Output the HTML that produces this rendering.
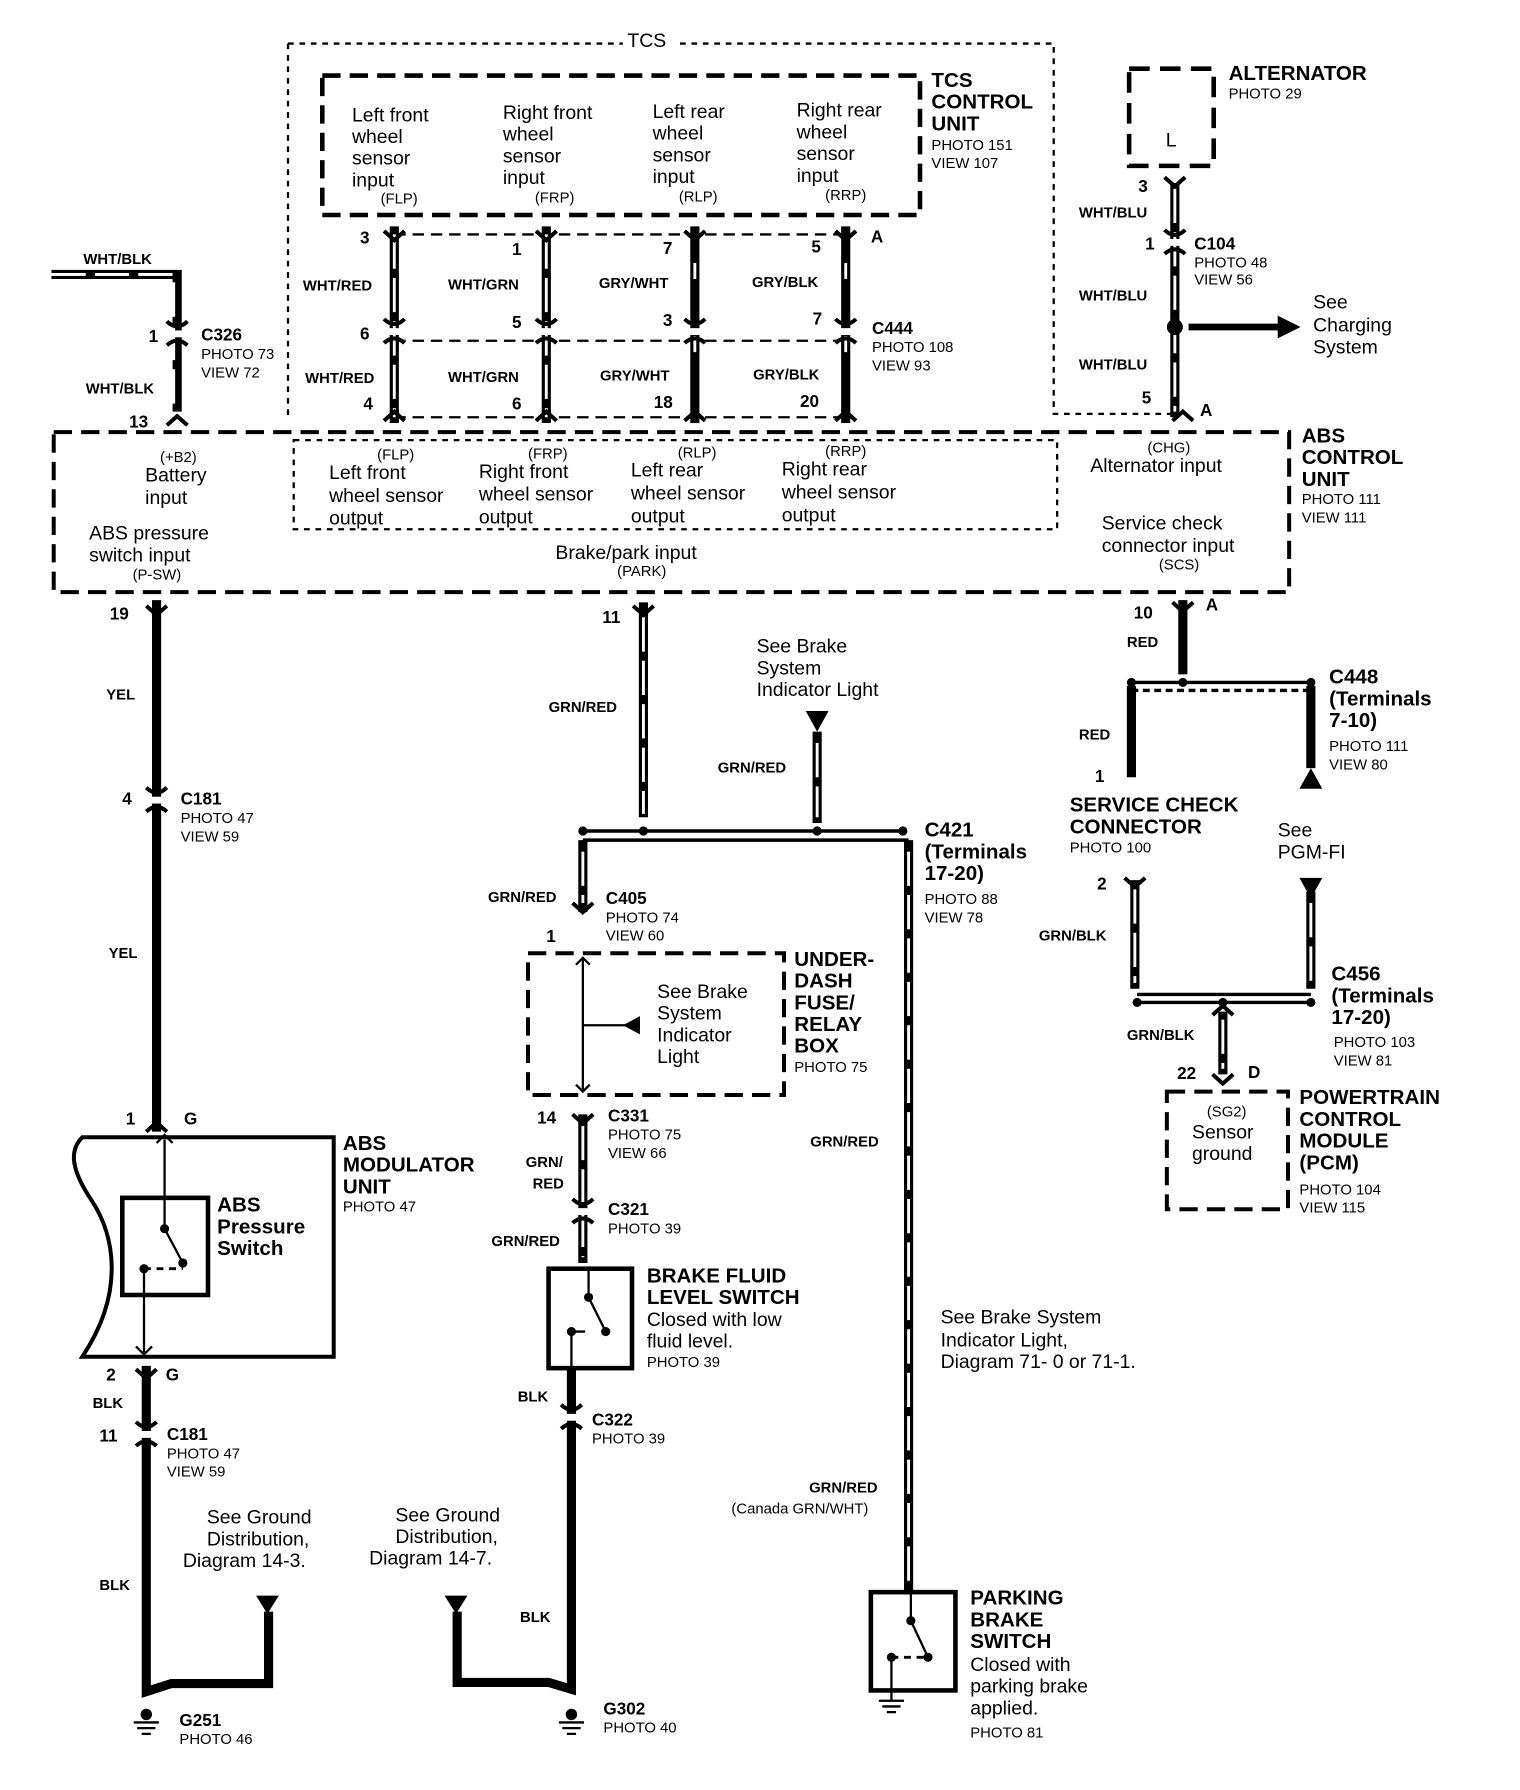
<!DOCTYPE html>
<html><head><meta charset="utf-8"><style>
html,body{margin:0;padding:0;background:#fff;width:1520px;height:1790px;overflow:hidden}
svg{display:block}
text{font-family:"Liberation Sans",Arial,sans-serif;fill:#000}
.n{font-size:17px}
.b{font-size:18px;font-weight:bold}
.s{font-size:13px}
.w{font-size:13px;font-weight:bold}
.p{font-size:15px;font-weight:bold}
</style></head><body>
<svg width="1520" height="1790" viewBox="0 0 1330 1566" xmlns="http://www.w3.org/2000/svg">
<defs>
<g id="cd"><rect x="-7" y="-3" width="14" height="6" fill="#fff"/><path d="M-9,-11 Q0,-2 9,-11" fill="none" stroke="#000" stroke-width="3.5"/><path d="M-9,10 Q0,2 9,10" fill="none" stroke="#000" stroke-width="3.5"/></g>
</defs>
<g fill="none" stroke="#000">
<path d="M252,38 V365 M252,38 H545 M595,38 H922 V362 H1028" stroke-width="2" stroke-dasharray="5,5"/>
<rect x="282" y="66" width="523" height="122" stroke-width="4" stroke-dasharray="16,8"/>
<rect x="47" y="378" width="1081" height="140" stroke-width="3.5" stroke-dasharray="16,8"/>
<rect x="257" y="385" width="668" height="78" stroke-width="2" stroke-dasharray="5,5"/>
<path d="M345,205 H740 M345,298 H740 M345,365 H740" stroke-width="2" stroke-dasharray="10,6"/>
<rect x="988" y="60" width="74" height="85" stroke-width="4" stroke-dasharray="18,9"/>
<rect x="462" y="834" width="224" height="124" stroke-width="3.5" stroke-dasharray="16,8"/>
<rect x="1021" y="955" width="106" height="103" stroke-width="3.5" stroke-dasharray="16,8"/>
</g>
<g stroke="#000" fill="none" stroke-width="8">
<path d="M345,198 V370 M478,198 V370 M1028,160 V365 M45,240 H155 V360"/>
<path d="M608,198 V370 M740,198 V370"/>
<path d="M137,525 V990 M128,1195 V1480 L150,1473 H235 V1410 M500,1197 V1478 L480,1472 H400 V1410 M1035,525 V590 M990,600 V680 M1147,600 V672"/>
<path d="M563,527 V715 M715,640 V720 M510,735 V798 M510,975 V1105 M795,735 V1395 M993,770 V865 M1147,780 V865 M1070,885 V940"/>
</g>
<g stroke="#fff" fill="none" stroke-width="2.5">
<path d="M345,205 V365 M478,205 V365 M1028,165 V360 M45,240 H152 V355 M563,540 V712 M715,650 V715 M510,745 V790 M510,985 V1100 M795,745 V1390 M993,778 V860 M1147,790 V860 M1070,892 V935" stroke-dasharray="30,8"/>
<path d="M608,230 V345 M740,230 V345" stroke-dasharray="14,50"/>
</g>
<g>
<use href="#cd" x="345" y="290"/><use href="#cd" x="478" y="290"/><use href="#cd" x="608" y="290"/><use href="#cd" x="740" y="290"/>
<use href="#cd" x="155" y="292"/><use href="#cd" x="1028" y="212"/>
<use href="#cd" x="137" y="700"/><use href="#cd" x="128" y="1255"/>
<use href="#cd" x="510" y="1060"/><use href="#cd" x="500" y="1240"/>
</g>
<g fill="none" stroke="#000" stroke-width="3.5">
<path d="M336,202 L345,210 L354,202 M469,202 L478,210 L487,202 M599,202 L608,210 L617,202 M731,202 L740,210 L749,202 M336,368 L345,360 L354,368 M469,368 L478,360 L487,368 M599,368 L608,360 L617,368 M731,368 L740,360 L749,368"/>
<path d="M1019,155 L1028,163 L1037,155 M1026,368 L1035,360 L1044,368 M146,372 L155,364 L164,372 M128,530 L137,538 L146,530 M554,530 L563,538 L572,530 M1026,527 L1035,535 L1044,527"/>
<path d="M128,990 L137,982 L146,990 M119,1198 L128,1206 L137,1198 M501,790 L510,798 L519,790 M501,975 L510,983 L519,975 M984,768 L993,776 L1002,768 M1061,888 L1070,880 L1079,888 M1061,940 L1070,948 L1079,940"/>
</g>
<g stroke="#000" stroke-width="3">
<line x1="510" y1="727" x2="790" y2="727"/>
<line x1="510" y1="735" x2="795" y2="735"/>
<line x1="990" y1="597" x2="1147" y2="597"/>
<line x1="990" y1="604" x2="1147" y2="604" stroke-dasharray="6,4"/>
<line x1="995" y1="870" x2="1147" y2="870"/>
<line x1="995" y1="877" x2="1147" y2="877"/>
<line x1="1040" y1="286" x2="1120" y2="286" stroke-width="6"/>
</g>
<g fill="#000">
<circle cx="510" cy="727" r="4"/><circle cx="563" cy="727" r="4"/><circle cx="715" cy="727" r="4"/><circle cx="790" cy="727" r="4"/>
<circle cx="990" cy="597" r="4"/><circle cx="1035" cy="597" r="4"/><circle cx="1147" cy="597" r="4"/>
<circle cx="995" cy="877" r="4"/><circle cx="1070" cy="877" r="4"/><circle cx="1147" cy="877" r="4"/>
<circle cx="1028" cy="286" r="7"/>
<polygon points="1118,276 1138,286 1118,296"/>
<polygon points="705,622 725,622 715,640"/>
<polygon points="1137,690 1157,690 1147,672"/>
<polygon points="1137,768 1157,768 1147,786"/>
<polygon points="224,1396 244,1396 234,1412"/>
<polygon points="389,1396 409,1396 399,1412"/>
<polygon points="545,897 560,889 560,905"/>
</g>
<g fill="none" stroke="#000">
<path d="M72,995 H292 V1187 H72 C110,1130 100,1080 80,1050 C60,1020 62,1005 72,995 Z" stroke-width="3.5"/>
<rect x="107" y="1048" width="75" height="85" stroke-width="4"/>
<path d="M144,997 V1075 L160,1105 M126,1110 V1185" stroke-width="2"/>
<path d="M126,1110 H160 M515,1165 H530 M780,1450 H812" stroke-width="2.5" stroke-dasharray="6,5"/>
<path d="M137,1000 L144,993 L151,1000 M119,1178 L126,1185 L133,1178" stroke-width="2"/>
<rect x="480" y="1110" width="73" height="87" fill="#fff" stroke-width="4"/>
<path d="M515,1112 V1135 L530,1165 M500,1165 V1197 M500,1165 H512" stroke-width="2"/>
<rect x="762" y="1393" width="74" height="86" stroke-width="4"/>
<path d="M797,1395 V1418 L812,1450 M780,1450 V1488" stroke-width="2"/>
<path d="M510,838 V955 M510,897 H548 M504,844 L510,838 L516,844 M504,949 L510,955 L516,949" stroke-width="2"/>
</g>
<g fill="#000"><circle cx="144" cy="1075" r="4"/><circle cx="160" cy="1105" r="4"/><circle cx="126" cy="1110" r="4"/>
<circle cx="515" cy="1135" r="4"/><circle cx="530" cy="1165" r="4"/><circle cx="500" cy="1165" r="4"/>
<circle cx="797" cy="1418" r="4"/><circle cx="812" cy="1450" r="4"/><circle cx="780" cy="1450" r="4"/>
<circle cx="128" cy="1500" r="5"/><circle cx="500" cy="1500" r="5"/></g>
<g stroke="#000" stroke-width="2">
<path d="M117,1507 H139 M120,1512 H136 M124,1517 H132 M489,1507 H511 M492,1512 H508 M496,1517 H504 M769,1488 H791 M772,1493 H788 M776,1498 H784"/>
</g>
<text x="549" y="41" class="n">TCS</text>
<text x="815" y="76" class="b">TCS</text><text x="815" y="95" class="b">CONTROL</text><text x="815" y="114" class="b">UNIT</text>
<text x="815" y="131" class="s">PHOTO 151</text><text x="815" y="147" class="s">VIEW 107</text>
<g class="n">
<text x="308" y="106">Left front</text><text x="308" y="125">wheel</text><text x="308" y="144">sensor</text><text x="308" y="163">input</text>
<text x="440" y="104">Right front</text><text x="440" y="123">wheel</text><text x="440" y="142">sensor</text><text x="440" y="161">input</text>
<text x="571" y="103">Left rear</text><text x="571" y="122">wheel</text><text x="571" y="141">sensor</text><text x="571" y="160">input</text>
<text x="697" y="102">Right rear</text><text x="697" y="121">wheel</text><text x="697" y="140">sensor</text><text x="697" y="159">input</text>
</g>
<g class="s"><text x="333" y="178">(FLP)</text><text x="468" y="177">(FRP)</text><text x="594" y="176">(RLP)</text><text x="722" y="175">(RRP)</text></g>
<g class="p"><text x="315" y="213">3</text><text x="448" y="223">1</text><text x="580" y="222">7</text><text x="710" y="221">5</text><text x="762" y="212">A</text>
<text x="315" y="297">6</text><text x="448" y="287">5</text><text x="580" y="285">3</text><text x="711" y="284">7</text>
<text x="318" y="358">4</text><text x="448" y="358">6</text><text x="572" y="357">18</text><text x="700" y="356">20</text>
<text x="130" y="299">1</text><text x="113" y="374">13</text>
<text x="996" y="168">3</text><text x="1002" y="218">1</text><text x="999" y="353">5</text><text x="1050" y="364">A</text>
</g>
<g class="w"><text x="265" y="254">WHT/RED</text><text x="392" y="253">WHT/GRN</text><text x="524" y="252">GRY/WHT</text><text x="658" y="251">GRY/BLK</text>
<text x="267" y="335">WHT/RED</text><text x="392" y="334">WHT/GRN</text><text x="525" y="333">GRY/WHT</text><text x="659" y="332">GRY/BLK</text>
<text x="73" y="231">WHT/BLK</text><text x="75" y="344">WHT/BLK</text>
<text x="944" y="190">WHT/BLU</text><text x="944" y="263">WHT/BLU</text><text x="944" y="323">WHT/BLU</text></g>
<text x="763" y="292" class="p" font-size="17">C444</text><text x="763" y="308" class="s">PHOTO 108</text><text x="763" y="324" class="s">VIEW 93</text>
<text x="176" y="298" class="p" font-size="17">C326</text><text x="176" y="314" class="s">PHOTO 73</text><text x="176" y="330" class="s">VIEW 72</text>
<text x="1075" y="70" class="b">ALTERNATOR</text><text x="1075" y="86" class="s">PHOTO 29</text>
<text x="1020" y="128" class="n">L</text>
<text x="1045" y="218" class="p" font-size="17">C104</text><text x="1045" y="234" class="s">PHOTO 48</text><text x="1045" y="249" class="s">VIEW 56</text>
<text x="1149" y="270" class="n">See</text><text x="1149" y="290" class="n">Charging</text><text x="1149" y="309" class="n">System</text>
<text x="1139" y="387" class="b">ABS</text><text x="1139" y="406" class="b">CONTROL</text><text x="1139" y="425" class="b">UNIT</text>
<text x="1139" y="441" class="s">PHOTO 111</text><text x="1139" y="457" class="s">VIEW 111</text>
<g class="s"><text x="140" y="404">(+B2)</text><text x="330" y="402">(FLP)</text><text x="462" y="401">(FRP)</text><text x="593" y="400">(RLP)</text><text x="722" y="399">(RRP)</text><text x="1004" y="396">(CHG)</text><text x="116" y="507">(P-SW)</text><text x="540" y="504">(PARK)</text><text x="1014" y="498">(SCS)</text></g>
<g class="n">
<text x="127" y="421">Battery</text><text x="127" y="441">input</text>
<text x="78" y="472">ABS pressure</text><text x="78" y="491">switch input</text>
<text x="288" y="419">Left front</text><text x="288" y="439">wheel sensor</text><text x="288" y="459">output</text>
<text x="419" y="418">Right front</text><text x="419" y="438">wheel sensor</text><text x="419" y="458">output</text>
<text x="552" y="417">Left rear</text><text x="552" y="437">wheel sensor</text><text x="552" y="457">output</text>
<text x="684" y="416">Right rear</text><text x="684" y="436">wheel sensor</text><text x="684" y="456">output</text>
<text x="954" y="413">Alternator input</text>
<text x="964" y="463">Service check</text><text x="964" y="483">connector input</text>
<text x="486" y="489">Brake/park input</text>
</g>
<g class="p"><text x="96" y="542">19</text><text x="527" y="545">11</text><text x="992" y="541">10</text><text x="1055" y="534">A</text>
<text x="107" y="704">4</text><text x="110" y="984">1</text><text x="161" y="984">G</text><text x="93" y="1208">2</text><text x="145" y="1208">G</text><text x="87" y="1261">11</text>
<text x="478" y="824">1</text><text x="470" y="983">14</text><text x="958" y="684">1</text><text x="960" y="778">2</text><text x="1030" y="944">22</text><text x="1092" y="943">D</text></g>
<g class="w"><text x="93" y="612">YEL</text><text x="95" y="838">YEL</text><text x="81" y="1232">BLK</text><text x="87" y="1391">BLK</text>
<text x="480" y="623">GRN/RED</text><text x="628" y="676">GRN/RED</text><text x="427" y="789">GRN/RED</text><text x="460" y="1021">GRN/</text><text x="466" y="1040">RED</text><text x="430" y="1090">GRN/RED</text><text x="453" y="1226">BLK</text><text x="455" y="1419">BLK</text>
<text x="709" y="1003">GRN/RED</text><text x="708" y="1306">GRN/RED</text><text x="640" y="1324" font-weight="normal">(Canada GRN/WHT)</text>
<text x="986" y="566">RED</text><text x="944" y="647">RED</text><text x="909" y="823">GRN/BLK</text><text x="986" y="910">GRN/BLK</text></g>
<text x="158" y="704" class="p" font-size="17">C181</text><text x="158" y="720" class="s">PHOTO 47</text><text x="158" y="736" class="s">VIEW 59</text>
<text x="146" y="1260" class="p" font-size="17">C181</text><text x="146" y="1276" class="s">PHOTO 47</text><text x="146" y="1292" class="s">VIEW 59</text>
<text x="300" y="1006" class="b">ABS</text><text x="300" y="1025" class="b">MODULATOR</text><text x="300" y="1044" class="b">UNIT</text><text x="300" y="1060" class="s">PHOTO 47</text>
<text x="190" y="1060" class="b">ABS</text><text x="190" y="1079" class="b">Pressure</text><text x="190" y="1098" class="b">Switch</text>
<g class="n"><text x="181" y="1333">See Ground</text><text x="181" y="1352">Distribution,</text><text x="160" y="1371">Diagram 14-3.</text>
<text x="346" y="1331">See Ground</text><text x="346" y="1350">Distribution,</text><text x="323" y="1369">Diagram 14-7.</text>
<text x="662" y="571">See Brake</text><text x="662" y="590">System</text><text x="662" y="609">Indicator Light</text>
<text x="575" y="873">See Brake</text><text x="575" y="892">System</text><text x="575" y="911">Indicator</text><text x="575" y="930">Light</text>
<text x="566" y="1160">Closed with low</text><text x="566" y="1179">fluid level.</text>
<text x="823" y="1158">See Brake System</text><text x="823" y="1178">Indicator Light,</text><text x="823" y="1197">Diagram 71- 0 or 71-1.</text>
<text x="849" y="1462">Closed with</text><text x="849" y="1481">parking brake</text><text x="849" y="1500">applied.</text>
<text x="1118" y="732">See</text><text x="1118" y="751">PGM-FI</text>
<text x="1043" y="996">Sensor</text><text x="1043" y="1015">ground</text></g>
<text x="1056" y="977" class="s">(SG2)</text>
<text x="157" y="1510" class="p" font-size="17">G251</text><text x="157" y="1526" class="s">PHOTO 46</text>
<text x="528" y="1500" class="p" font-size="17">G302</text><text x="528" y="1516" class="s">PHOTO 40</text>
<text x="530" y="791" class="p" font-size="17">C405</text><text x="530" y="807" class="s">PHOTO 74</text><text x="530" y="823" class="s">VIEW 60</text>
<text x="695" y="845" class="b">UNDER-</text><text x="695" y="864" class="b">DASH</text><text x="695" y="883" class="b">FUSE/</text><text x="695" y="902" class="b">RELAY</text><text x="695" y="921" class="b">BOX</text><text x="695" y="938" class="s">PHOTO 75</text>
<text x="532" y="981" class="p" font-size="17">C331</text><text x="532" y="997" class="s">PHOTO 75</text><text x="532" y="1013" class="s">VIEW 66</text>
<text x="532" y="1063" class="p" font-size="17">C321</text><text x="532" y="1079" class="s">PHOTO 39</text>
<text x="566" y="1122" class="b">BRAKE FLUID</text><text x="566" y="1141" class="b">LEVEL SWITCH</text><text x="566" y="1196" class="s">PHOTO 39</text>
<text x="518" y="1247" class="p" font-size="17">C322</text><text x="518" y="1263" class="s">PHOTO 39</text>
<text x="809" y="732" class="b">C421</text><text x="809" y="751" class="b">(Terminals</text><text x="809" y="770" class="b">17-20)</text><text x="809" y="791" class="s">PHOTO 88</text><text x="809" y="807" class="s">VIEW 78</text>
<text x="849" y="1404" class="b">PARKING</text><text x="849" y="1423" class="b">BRAKE</text><text x="849" y="1442" class="b">SWITCH</text><text x="849" y="1520" class="s">PHOTO 81</text>
<text x="1163" y="598" class="b">C448</text><text x="1163" y="617" class="b">(Terminals</text><text x="1163" y="636" class="b">7-10)</text><text x="1163" y="657" class="s">PHOTO 111</text><text x="1163" y="673" class="s">VIEW 80</text>
<text x="936" y="710" class="b">SERVICE CHECK</text><text x="936" y="729" class="b">CONNECTOR</text><text x="936" y="746" class="s">PHOTO 100</text>
<text x="1165" y="858" class="b">C456</text><text x="1165" y="877" class="b">(Terminals</text><text x="1165" y="896" class="b">17-20)</text><text x="1167" y="916" class="s">PHOTO 103</text><text x="1167" y="932" class="s">VIEW 81</text>
<text x="1137" y="966" class="b">POWERTRAIN</text><text x="1137" y="985" class="b">CONTROL</text><text x="1137" y="1004" class="b">MODULE</text><text x="1137" y="1023" class="b">(PCM)</text><text x="1137" y="1045" class="s">PHOTO 104</text><text x="1137" y="1061" class="s">VIEW 115</text>
</svg>
</body></html>
